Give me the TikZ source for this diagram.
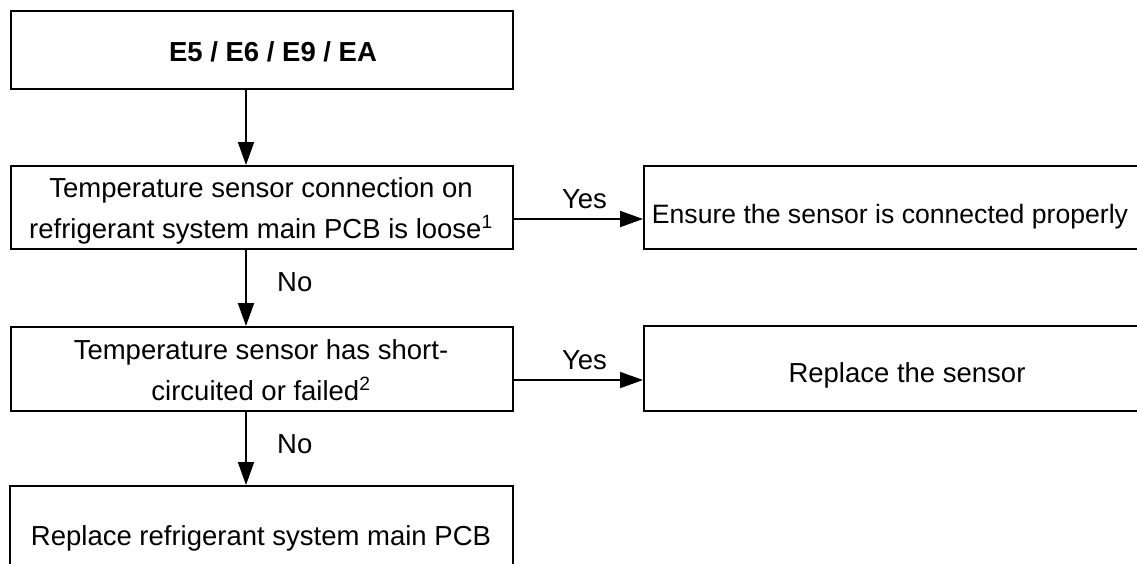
\documentclass[tikz,border=0pt]{standalone}
\usepackage{fontspec}
\setmainfont{Liberation Sans}
\usetikzlibrary{arrows.meta}
\begin{document}
\begin{tikzpicture}[x=1pt,y=-1pt,
  box/.style={draw, line width=2.4pt, rectangle, inner sep=0pt, anchor=north west},
  txt/.style={anchor=base, inner sep=0pt, font=\fontsize{27.5}{33}\selectfont},
  ttl/.style={anchor=base, inner sep=0pt, font=\fontsize{27.5}{33}\selectfont\bfseries},
  conn/.style={line width=2pt, -{Triangle[length=23pt,width=16pt]}}
]
\useasboundingbox (0,0) rectangle (1137,563);
% boxes
\node[box, minimum width=502pt, minimum height=78pt] (b1) at (10,10) {};
\node[box, minimum width=502pt, minimum height=83pt] (b2) at (10,165) {};
\node[box, minimum width=520pt, minimum height=83pt] (b3) at (643,165) {};
\node[box, minimum width=502pt, minimum height=84pt] (b4) at (10,326) {};
\node[box, minimum width=520pt, minimum height=85pt] (b6) at (643,325) {};
\node[box, minimum width=503pt, minimum height=110pt] (b5) at (9,485) {};
% texts
\node[ttl] (t1) at (273,61) {E5 / E6 / E9 / EA};
\node[txt] (t2a) at (261,197) {Temperature sensor connection on};
\node[txt] (t2b) at (261,238) {refrigerant system main PCB is loose\textsuperscript{1}};
\node[txt, font=\fontsize{26.6}{33}\selectfont] (t3) at (890,223) {Ensure the sensor is connected properly};
\node[txt] (t4a) at (261,359) {Temperature sensor has short-};
\node[txt] (t4b) at (261,400) {circuited or failed\textsuperscript{2}};
\node[txt] (t6) at (907,382) {Replace the sensor};
\node[txt] (t5) at (261,545) {Replace refrigerant system main PCB};
% connectors
\coordinate (vx) at (246,0);
\coordinate (h1) at (0,219);
\coordinate (h2) at (0,380);
\draw[conn] (b1.south -| vx) -- (b2.north -| vx);
\draw[conn] (b2.south -| vx) -- (b4.north -| vx);
\draw[conn] (b4.south -| vx) -- (b5.north -| vx);
\draw[conn] (b2.east |- h1) -- (b3.west |- h1);
\draw[conn] (b4.east |- h2) -- (b6.west |- h2);
% labels
\node[txt] (y1) at (584.5,208) {Yes};
\node[txt] (y2) at (584.5,369) {Yes};
\node[txt, anchor=base west] (n1) at (277,291) {No};
\node[txt, anchor=base west] (n2) at (277,453) {No};
\end{tikzpicture}
\end{document}
